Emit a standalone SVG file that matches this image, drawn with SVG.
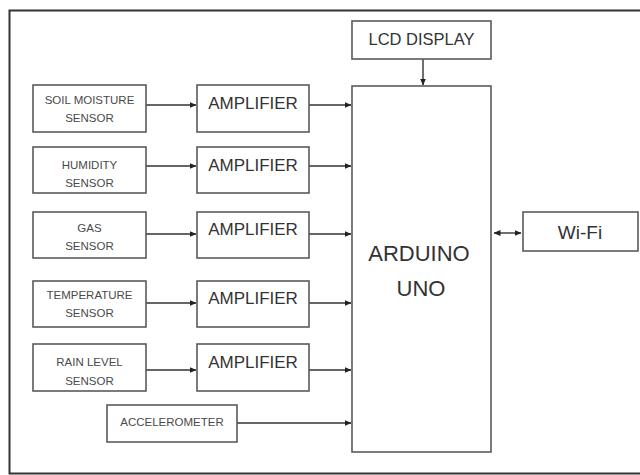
<svg xmlns="http://www.w3.org/2000/svg" width="640" height="475" viewBox="0 0 640 475">
<style>
.box{fill:#fff;stroke:#5a5a5a;stroke-width:1.6}
.small{font-family:"Liberation Sans",Arial,sans-serif;font-size:11.5px;fill:#4a4a4a;text-anchor:middle;dominant-baseline:central}
.mid{font-family:"Liberation Sans",Arial,sans-serif;font-size:17px;fill:#333;text-anchor:middle;dominant-baseline:central}
.big{font-family:"Liberation Sans",Arial,sans-serif;font-size:22px;fill:#333;text-anchor:middle;dominant-baseline:central}
.wire{fill:none;stroke:#333;stroke-width:1.4;marker-end:url(#ah)}
</style>
<defs>
<marker id="ah" markerWidth="7" markerHeight="6" refX="6.5" refY="3" orient="auto" markerUnits="userSpaceOnUse">
<path d="M0,0 L7,3 L0,6 Z" fill="#222"/>
</marker>
<marker id="ahs" markerWidth="7" markerHeight="6" refX="0.5" refY="3" orient="auto" markerUnits="userSpaceOnUse">
<path d="M7,0 L0,3 L7,6 Z" fill="#222"/>
</marker>
</defs>
<rect width="640" height="475" fill="#fff"/>
<rect x="9.5" y="10.5" width="700" height="463" fill="none" stroke="#333" stroke-width="2"/>

<g id="connectors">
<line class="wire" x1="146" y1="105" x2="196" y2="105"/>
<line class="wire" x1="146" y1="166" x2="196" y2="166"/>
<line class="wire" x1="146" y1="234" x2="196" y2="234"/>
<line class="wire" x1="146" y1="303" x2="196" y2="303"/>
<line class="wire" x1="146" y1="370" x2="196" y2="370"/>
<line class="wire" x1="309" y1="105" x2="351" y2="105"/>
<line class="wire" x1="309" y1="166" x2="351" y2="166"/>
<line class="wire" x1="309" y1="234" x2="351" y2="234"/>
<line class="wire" x1="309" y1="303" x2="351" y2="303"/>
<line class="wire" x1="309" y1="370" x2="351" y2="370"/>
<line class="wire" x1="237" y1="423" x2="351" y2="423"/>
<line class="wire" x1="423" y1="59" x2="423" y2="85"/>
<line class="wire" x1="494" y1="233" x2="521" y2="233" marker-start="url(#ahs)"/>
</g>

<g id="soil"><rect class="box" x="33" y="85" width="113" height="47"/><text class="small" x="89.5" y="100">SOIL MOISTURE</text><text class="small" x="89.5" y="118">SENSOR</text></g>
<g id="humidity"><rect class="box" x="33" y="147" width="113" height="46"/><text class="small" x="89.5" y="165">HUMIDITY</text><text class="small" x="89.5" y="183">SENSOR</text></g>
<g id="gas"><rect class="box" x="33" y="212" width="113" height="46"/><text class="small" x="89.5" y="228">GAS</text><text class="small" x="89.5" y="246">SENSOR</text></g>
<g id="temperature"><rect class="box" x="33" y="281" width="113" height="46"/><text class="small" x="89.5" y="295">TEMPERATURE</text><text class="small" x="89.5" y="313">SENSOR</text></g>
<g id="rain"><rect class="box" x="33" y="344" width="113" height="47"/><text class="small" x="89.5" y="362">RAIN LEVEL</text><text class="small" x="89.5" y="381">SENSOR</text></g>
<g id="accelerometer"><rect class="box" x="107" y="405" width="130" height="37"/><text class="small" x="172" y="422">ACCELEROMETER</text></g>

<g id="amp1"><rect class="box" x="197" y="85" width="112" height="47"/><text class="mid" x="253" y="103">AMPLIFIER</text></g>
<g id="amp2"><rect class="box" x="197" y="147" width="112" height="46"/><text class="mid" x="253" y="165">AMPLIFIER</text></g>
<g id="amp3"><rect class="box" x="197" y="212" width="112" height="46"/><text class="mid" x="253" y="229">AMPLIFIER</text></g>
<g id="amp4"><rect class="box" x="197" y="281" width="112" height="46"/><text class="mid" x="253" y="298">AMPLIFIER</text></g>
<g id="amp5"><rect class="box" x="197" y="344" width="112" height="47"/><text class="mid" x="253" y="362">AMPLIFIER</text></g>

<g id="lcd"><rect class="box" x="352" y="21" width="139" height="38"/><text class="mid" x="421.5" y="39" style="font-size:16.5px">LCD DISPLAY</text></g>
<g id="arduino"><rect class="box" x="352" y="86" width="139" height="366"/><text class="big" x="419" y="253">ARDUINO</text><text class="big" x="421" y="288">UNO</text></g>
<g id="wifi"><rect class="box" x="523" y="212" width="115" height="39"/><text class="mid" x="580" y="232" style="font-size:19px">Wi-Fi</text></g>
</svg>
